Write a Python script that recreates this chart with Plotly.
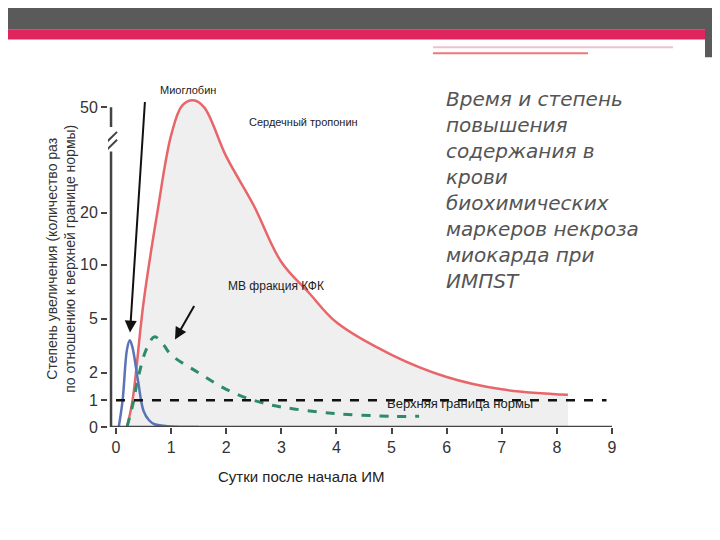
import numpy as np
import plotly.graph_objects as go

tick_real = [0, 1, 2, 5, 10, 20, 50]
tick_pos = [0, 27, 55, 110, 165, 218, 325]

trop_x = [0.2, 0.3, 0.5, 0.75, 1.0, 1.2, 1.4, 1.6, 2.0, 2.5, 3.0, 3.5, 4.0, 5.0, 6.0, 7.0, 8.2]
trop_y = [0, 1, 6.5, 20, 42, 50.5, 52, 50, 36, 22, 10.5, 7.4, 4.8, 3.0, 1.85, 1.4, 1.2]
myo_x = [0.05, 0.12, 0.2, 0.25, 0.3, 0.4, 0.5, 0.6, 0.7, 1.0, 1.5]
myo_y = [0, 1.0, 3.3, 3.8, 3.4, 1.7, 0.6, 0.25, 0.1, 0.02, 0]
ck_x = [0.2, 0.3, 0.4, 0.55, 0.7, 0.85, 1.0, 1.5, 2.0, 2.5, 3.0, 4.0, 5.0, 5.5]
ck_y = [0, 0.8, 1.8, 3.3, 4.0, 3.6, 3.0, 2.0, 1.4, 1.0, 0.75, 0.5, 0.4, 0.4]
norm_x = [0, 8.9]
norm_y = [1, 1]

def tr(v):
    v = np.asarray(v, float)
    out = np.interp(v, tick_real, tick_pos)
    over = v > 50
    out[over] = 325 + (v[over] - 50) * (107 / 30)
    return out

fig = go.Figure()
fig.add_trace(go.Scatter(x=trop_x, y=tr(trop_y), mode="lines", line=dict(color="#e8656a", width=2.5, shape="spline"),
                         fill="tozeroy", fillcolor="rgba(225,225,225,0.55)"))
fig.add_trace(go.Scatter(x=ck_x, y=tr(ck_y), mode="lines", line=dict(color="#2e8b6a", width=3, dash="dash", shape="spline")))
fig.add_trace(go.Scatter(x=myo_x, y=tr(myo_y), mode="lines", line=dict(color="#5b74b8", width=2.5, shape="spline")))
fig.add_trace(go.Scatter(x=norm_x, y=tr(norm_y), mode="lines", line=dict(color="#111", width=2.5, dash="dash")))

ax_font = dict(family="Liberation Sans", size=16, color="#333")
fig.update_layout(
    width=720, height=540, margin=dict(l=0, r=0, t=0, b=0), showlegend=False,
    plot_bgcolor="white", paper_bgcolor="white",
    xaxis=dict(domain=[100/720, 612/720], range=[-0.145, 9.145], tickvals=list(range(10)),
               ticks="outside", ticklen=6, tickwidth=2, tickcolor="#444", showgrid=False, zeroline=False,
               tickfont=ax_font, showline=False, anchor="y"),
    yaxis=dict(domain=[114/540, 452/540], range=[0, 338], tickvals=tick_pos, ticktext=[str(t) for t in tick_real],
               ticks="outside", ticklen=6, tickwidth=2, tickcolor="#444", showgrid=False, zeroline=False,
               tickfont=ax_font, showline=False),
)
fig.add_shape(type="line", xref="x", yref="y", x0=-0.09, x1=9.0, y0=0, y1=0, line=dict(color="#444", width=2.5))
fig.add_shape(type="line", xref="x", yref="y", x0=-0.09, x1=-0.09, y0=0, y1=280, line=dict(color="#444", width=2.5))
fig.add_shape(type="line", xref="x", yref="y", x0=-0.09, x1=-0.09, y0=305, y1=325, line=dict(color="#444", width=2.5))
for dy in (0, 8):
    fig.add_shape(type="line", xref="x", yref="y", x0=-0.2, x1=0.02, y0=280 + dy, y1=292 + dy, line=dict(color="#444", width=2))

fig.add_annotation(xref="paper", yref="paper", x=150/720, y=1-75/540, text="Миоглобин", showarrow=False,
                   font=dict(family="Liberation Sans", size=11, color="#222"))
fig.add_annotation(xref="paper", yref="paper", x=295/720, y=1-108/540, text="Сердечный тропонин", showarrow=False,
                   font=dict(family="Liberation Sans", size=11, color="#222"))
fig.add_annotation(xref="paper", yref="paper", x=218/720, y=1-283/540, text="MB фракция КФК", showarrow=False,
                   font=dict(family="Liberation Sans", size=12, color="#222"))
fig.add_annotation(xref="paper", yref="paper", x=527/720, y=1-412/540, text="Верхняя граница нормы", showarrow=False,
                   font=dict(family="Liberation Sans", size=13, color="#222"))
fig.add_annotation(xref="paper", yref="paper", x=293/720, y=1-487/540, text="Сутки после начала ИМ", showarrow=False,
                   font=dict(family="Liberation Sans", size=15, color="#222"))
fig.add_annotation(xref="paper", yref="paper", x=34/720, y=1-255/540, textangle=-90, showarrow=False,
                   text="Степень увеличения (количество раз<br>по отношению к верхней границе нормы)",
                   font=dict(family="Liberation Sans", size=14, color="#333"))
fig.add_annotation(xref="paper", yref="paper", x=122/720, y=1-330/540, ax=15, ay=-232,
                   showarrow=True, arrowhead=2, arrowsize=1.2, arrowwidth=2, arrowcolor="#111", text="")
fig.add_annotation(xref="paper", yref="paper", x=167/720, y=1-337/540, ax=20, ay=-35,
                   showarrow=True, arrowhead=2, arrowsize=1.2, arrowwidth=2, arrowcolor="#111", text="")
fig.add_annotation(xref="paper", yref="paper", x=436/720, y=1-78/540, xanchor="left", yanchor="top", align="left",
                   showarrow=False,
                   text="<i>Время и степень<br>повышения<br>содержания в<br>крови<br>биохимических<br>маркеров некроза<br>миокарда при<br>ИМПST</i>",
                   font=dict(family="DejaVu Sans", size=20, color="#555"))
fig.add_shape(type="rect", xref="paper", yref="paper", x0=0, x1=1, y0=1-22/540, y1=1, fillcolor="#5a5a5a", line_width=0)
fig.add_shape(type="rect", xref="paper", yref="paper", x0=0, x1=1, y0=1-32/540, y1=1-22/540, fillcolor="#e0245e", line_width=0)
fig.add_shape(type="rect", xref="paper", yref="paper", x0=697/720, x1=1, y0=1-50/540, y1=1, fillcolor="#5a5a5a", line_width=0)
fig.add_shape(type="line", xref="paper", yref="paper", x0=425/720, x1=665/720, y0=1-40/540, y1=1-40/540, line=dict(color="#f0c0cf", width=2))
fig.add_shape(type="line", xref="paper", yref="paper", x0=425/720, x1=580/720, y0=1-46/540, y1=1-46/540, line=dict(color="#e77", width=2))
fig.write_html("out.html")
